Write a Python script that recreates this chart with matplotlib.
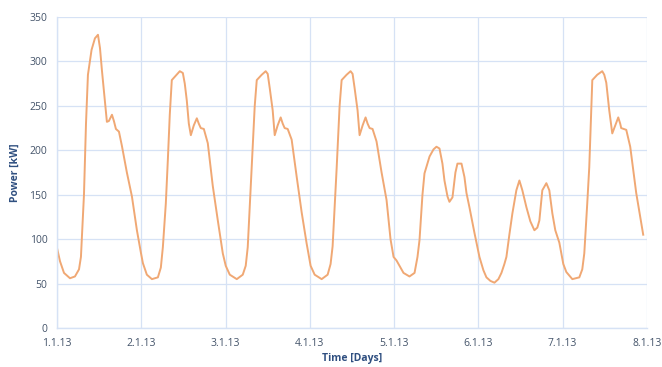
import matplotlib
matplotlib.use("Agg")
import matplotlib.pyplot as plt

# time in days since 1.1.13, power in kW
t_days = [0.00, 0.036, 0.083, 0.154, 0.213, 0.261, 0.284, 0.32, 0.344, 0.367, 0.41, 0.45, 0.486, 0.51,
          0.533, 0.569, 0.592, 0.616, 0.652, 0.675, 0.699, 0.735, 0.77, 0.829, 0.889, 0.948, 0.995,
          1.019, 1.066, 1.126, 1.197, 1.232, 1.256, 1.291, 1.315, 1.338, 1.362, 1.41, 1.457, 1.493,
          1.516, 1.54, 1.564, 1.588, 1.623, 1.659, 1.682, 1.706, 1.742, 1.789, 1.848, 1.908, 1.967,
          2.002, 2.05, 2.133, 2.204, 2.239, 2.263, 2.31, 2.346, 2.37, 2.429, 2.476, 2.5, 2.524, 2.559,
          2.583, 2.618, 2.654, 2.678, 2.701, 2.737, 2.784, 2.844, 2.903, 2.962,
          3.009, 3.057, 3.14, 3.211, 3.246, 3.27, 3.318, 3.353, 3.377, 3.436, 3.483, 3.507, 3.531,
          3.566, 3.59, 3.626, 3.661, 3.685, 3.709, 3.744, 3.791, 3.851, 3.91, 3.957, 3.993,
          4.028, 4.064, 4.111, 4.182, 4.242, 4.277, 4.301, 4.336, 4.36, 4.42, 4.467, 4.502, 4.538,
          4.573, 4.597, 4.633, 4.656, 4.692, 4.727, 4.751, 4.799, 4.834, 4.858, 4.893, 4.953,
          5.012, 5.059, 5.095, 5.142, 5.19, 5.237, 5.273, 5.308, 5.332, 5.367, 5.403, 5.45, 5.486,
          5.521, 5.569, 5.616, 5.664, 5.699, 5.723, 5.758, 5.806, 5.841, 5.877, 5.912, 5.96,
          6.007, 6.043, 6.114, 6.197, 6.232, 6.256, 6.291, 6.315, 6.351, 6.41, 6.469, 6.493, 6.517,
          6.552, 6.588, 6.623, 6.659, 6.682, 6.694, 6.754, 6.801, 6.872, 6.919, 6.955]
power_kw = [90, 75, 62, 56, 58, 66, 80, 150, 230, 285, 313, 326, 330, 315,
            290, 255, 232, 233, 240, 233, 224, 221, 205, 175, 148, 110, 85,
            73, 60, 55, 57, 68, 91, 140, 189, 240, 279, 284, 289, 287,
            275, 256, 230, 217, 228, 236, 230, 225, 224, 208, 160, 121, 84,
            70, 60, 55, 60, 70, 91, 181, 250, 279, 285, 289, 286, 270, 245,
            217, 228, 237, 230, 225, 224, 212, 170, 130, 95,
            70, 60, 55, 60, 72, 92, 180, 250, 279, 285, 289, 286, 270,
            245, 217, 228, 237, 230, 225, 224, 210, 175, 144, 100, 80,
            76, 70, 62, 58, 62, 80, 99, 150, 174, 193, 201, 204, 202,
            185, 166, 148, 142, 147, 175, 185, 185, 170, 152, 136, 107,
            80, 65, 57, 53, 51, 55, 62, 72, 80, 105, 129, 155, 166,
            155, 136, 120, 110, 113, 121, 155, 163, 155, 129, 110, 96,
            72, 63, 55, 57, 66, 84, 140, 181, 279, 285, 289, 285, 276,
            245, 219, 228, 237, 230, 225, 223, 204, 152, 125, 105]

day_labels = ["1.1.13", "2.1.13", "3.1.13", "4.1.13", "5.1.13", "6.1.13", "7.1.13", "8.1.13"]
y_ticks = [0, 50, 100, 150, 200, 250, 300, 350]

plt.rcParams['font.family'] = ['Open Sans', 'DejaVu Sans']

fig = plt.figure(figsize=(6.62, 3.67), dpi=100)
ax = fig.add_axes([57/662, 1-328/367, 590/662, 311/367])

grid_c = "#D6E2F5"
label_c = "#44546A"
ax.plot(t_days, power_kw, color="#F0A874", lw=1.4, solid_joinstyle="round")

ax.set_xlim(0, 7)
ax.set_ylim(0, 350)
ax.set_xticks(range(len(day_labels)))
ax.set_xticklabels(day_labels)
ax.set_yticks(y_ticks)
ax.grid(True, color=grid_c, lw=0.9)
ax.set_axisbelow(True)
for s in ["top", "right"]:
    ax.spines[s].set_visible(False)
for s in ["left", "bottom"]:
    ax.spines[s].set_color(grid_c)
    ax.spines[s].set_linewidth(1.0)
ax.tick_params(length=0, colors=label_c, labelsize=7.5, pad=7)
for lab in ax.get_xticklabels() + ax.get_yticklabels():
    lab.set_color(label_c)

ax.set_xlabel("Time [Days]", fontsize=7.5, fontweight="bold", color="#2F4F80", labelpad=3)
ax.set_ylabel("Power [kW]", fontsize=7.5, fontweight="bold", color="#2F4F80", labelpad=6)

fig.savefig("out.png", dpi=100)
